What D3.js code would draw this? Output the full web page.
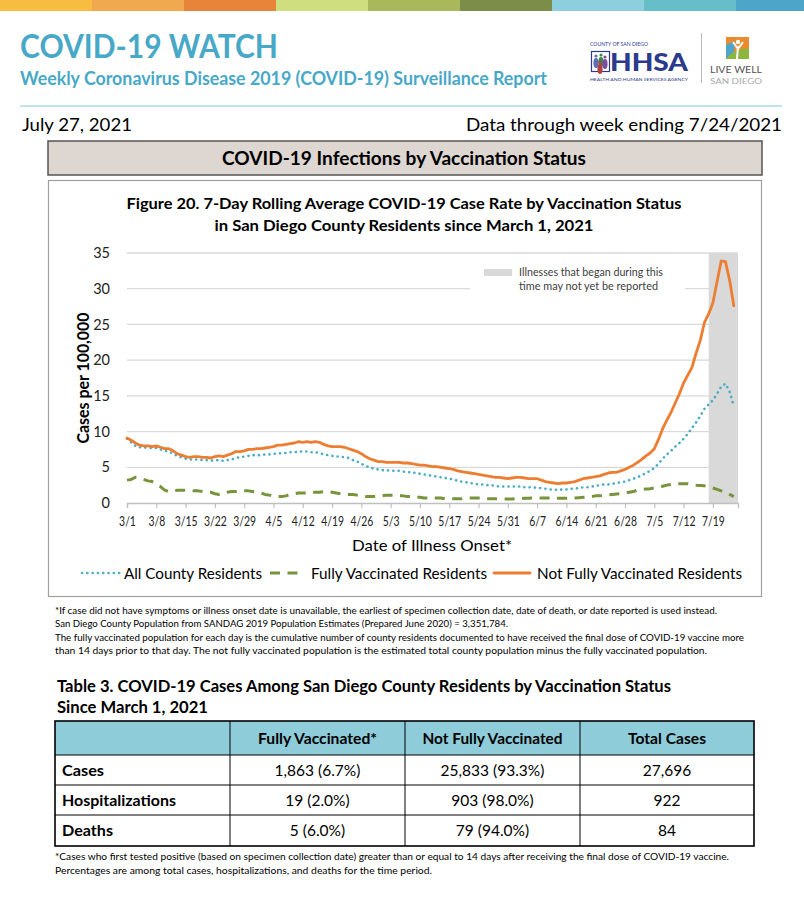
<!DOCTYPE html>
<html>
<head>
<meta charset="utf-8">
<script src="https://cdn.jsdelivr.net/npm/d3@7"></script>
<style>
  body { margin: 0; background: #fff; }
  text { font-family: Lato, "Open Sans", sans-serif; }
</style>
</head>
<body>
<script>
// chart values, one per day from 3/1/2021 to 7/24/2021
const startDate = '3/1/2021'
const notFullyVaccinated = [
  9.1, 8.8, 8.4, 8.1, 8.0, 8.0, 7.9, 8.0, 7.8, 7.6, 7.6, 7.3, 6.9, 6.7, 6.5, 6.4, 6.5, 6.5, 6.4, 6.4,
  6.3, 6.5, 6.6, 6.5, 6.7, 6.9, 7.2, 7.2, 7.3, 7.5, 7.5, 7.6, 7.6, 7.7, 7.8, 7.9, 8.1, 8.1, 8.2, 8.3,
  8.4, 8.6, 8.5, 8.6, 8.5, 8.6, 8.5, 8.2, 8.0, 7.9, 7.9, 7.9, 7.8, 7.6, 7.4, 7.2, 6.9, 6.5, 6.2, 6.0,
  5.8, 5.8, 5.7, 5.7, 5.7, 5.7, 5.6, 5.6, 5.5, 5.4, 5.3, 5.3, 5.2, 5.1, 5.1, 5.0, 4.9, 4.8, 4.7, 4.5,
  4.4, 4.3, 4.2, 4.1, 4.0, 3.9, 3.8, 3.7, 3.6, 3.6, 3.5, 3.4, 3.5, 3.6, 3.6, 3.5, 3.4, 3.4, 3.4, 3.2,
  3.0, 2.9, 2.8, 2.7, 2.8, 2.8, 2.9, 3.0, 3.2, 3.4, 3.5, 3.6, 3.7, 3.8, 4.0, 4.2, 4.3, 4.3, 4.5, 4.7,
  5.0, 5.3, 5.7, 6.1, 6.6, 7.0, 7.6, 8.9, 10.4, 11.6, 12.7, 14.0, 15.3, 16.8, 17.9, 19.0, 21.0, 22.8, 25.3, 26.5,
  28.0, 31.0, 33.9, 33.8, 31.2, 27.6
]
const allResidents = [
  9.0, 8.5, 8.0, 7.8, 7.8, 7.7, 7.7, 7.7, 7.5, 7.3, 7.2, 6.9, 6.6, 6.4, 6.2, 6.1, 6.1, 6.1, 6.0, 6.0,
  5.9, 6.0, 6.0, 5.9, 6.0, 6.1, 6.3, 6.4, 6.5, 6.6, 6.7, 6.7, 6.7, 6.8, 6.8, 6.9, 6.9, 7.0, 7.0, 7.1,
  7.1, 7.2, 7.2, 7.2, 7.1, 7.1, 7.0, 6.8, 6.7, 6.6, 6.5, 6.5, 6.4, 6.3, 6.0, 5.8, 5.5, 5.2, 5.0, 4.8,
  4.7, 4.6, 4.6, 4.5, 4.5, 4.5, 4.4, 4.3, 4.3, 4.2, 4.1, 4.0, 3.9, 3.8, 3.7, 3.6, 3.5, 3.4, 3.3, 3.1,
  3.0, 2.9, 2.8, 2.7, 2.6, 2.6, 2.5, 2.5, 2.4, 2.3, 2.3, 2.3, 2.3, 2.3, 2.3, 2.2, 2.2, 2.2, 2.1, 2.1,
  2.0, 1.9, 1.9, 1.8, 1.9, 1.9, 2.0, 2.0, 2.1, 2.2, 2.2, 2.3, 2.4, 2.5, 2.6, 2.6, 2.7, 2.8, 2.9, 3.0,
  3.2, 3.4, 3.6, 3.9, 4.2, 4.5, 4.9, 5.5, 6.2, 6.8, 7.3, 7.9, 8.4, 9.0, 9.7, 10.5, 11.3, 12.2, 13.2, 13.8,
  14.4, 15.3, 16.3, 16.7, 15.6, 13.5
]
const fullyVaccinated = [
  3.2, 3.3, 3.6, 3.5, 3.3, 3.1, 3.0, 2.7, 2.3, 1.8, 1.6, 1.6, 1.8, 1.8, 1.8, 1.8, 1.7, 1.7, 1.6, 1.5,
  1.5, 1.3, 1.2, 1.3, 1.5, 1.6, 1.6, 1.7, 1.7, 1.7, 1.6, 1.5, 1.4, 1.2, 1.1, 1.0, 0.9, 0.9, 1.0, 1.2,
  1.3, 1.4, 1.4, 1.4, 1.5, 1.5, 1.5, 1.6, 1.6, 1.5, 1.4, 1.3, 1.3, 1.2, 1.2, 1.1, 1.0, 0.9, 0.9, 0.9,
  0.9, 1.0, 1.1, 1.1, 1.1, 1.0, 1.0, 0.9, 0.9, 0.8, 0.8, 0.7, 0.7, 0.7, 0.7, 0.7, 0.6, 0.6, 0.6, 0.6,
  0.6, 0.7, 0.7, 0.7, 0.7, 0.6, 0.6, 0.6, 0.6, 0.55, 0.55, 0.55, 0.55, 0.6, 0.6, 0.65, 0.65, 0.7, 0.7, 0.7,
  0.7, 0.7, 0.7, 0.65, 0.65, 0.65, 0.65, 0.7, 0.75, 0.8, 0.85, 0.9, 1.0, 1.0, 1.1, 1.15, 1.2, 1.25, 1.3, 1.4,
  1.5, 1.6, 1.8, 1.9, 1.95, 2.0, 2.1, 2.2, 2.35, 2.5, 2.6, 2.7, 2.7, 2.7, 2.7, 2.6, 2.5, 2.45, 2.4, 2.3,
  2.1, 1.9, 1.7, 1.5, 1.2, 0.9
]
const weekLabels = ['3/1', '3/8', '3/15', '3/22', '3/29', '4/5', '4/12', '4/19', '4/26', '5/3', '5/10',
  '5/17', '5/24', '5/31', '6/7', '6/14', '6/21', '6/28', '7/5', '7/12', '7/19']
const yTicks = [0, 5, 10, 15, 20, 25, 30, 35]
const notReportedFrom = '7/18/2021'
const axisEnd = '7/25/2021'

const tableCols = ['Fully Vaccinated*', 'Not Fully Vaccinated', 'Total Cases']
const tableRows = ['Cases', 'Hospitalizations', 'Deaths']
const fullyVaxCells = ['1,863 (6.7%)', '19 (2.0%)', '5 (6.0%)']
const notFullyVaxCells = ['25,833 (93.3%)', '903 (98.0%)', '79 (94.0%)']
const totalCells = ['27,696', '922', '84']

const BAR_COLORS = ['#F6BD41', '#F0A94F', '#E8843A', '#CFDF7F', '#A9B85B', '#7B8D49', '#8DCFDD', '#66BEC9', '#4DA5C9']
const TEAL = '#48A8C7'
const ORANGE = '#ED7D31'
const BLUE = '#4BACC6'
const GREEN = '#77933C'

const parse = d3.timeParse('%m/%d/%Y')
const t0 = parse(startDate)
const dates = notFullyVaccinated.map((_, i) => d3.timeDay.offset(t0, i))

const svg = d3.select('body').append('svg')
  .attr('width', 804)
  .attr('height', 900)

// squeeze a text to the width it has in the report
function fit (sel, w) {
  sel.attr('textLength', w).attr('lengthAdjust', 'spacingAndGlyphs')
  return sel
}

function txt (x, y, s, size, opts = {}) {
  const t = svg.append('text')
    .attr('x', x).attr('y', y)
    .attr('font-size', size)
    .attr('font-weight', opts.bold ? 700 : 400)
    .attr('fill', opts.fill || '#000')
    .attr('text-anchor', opts.anchor || 'start')
    .text(s)
  if (opts.w) fit(t, opts.w)
  return t
}

// top colour band
svg.append('g').selectAll('rect')
  .data(BAR_COLORS)
  .join('rect')
    .attr('x', (c, i) => i * 92)
    .attr('y', 0)
    .attr('width', 92)
    .attr('height', 11)
    .attr('fill', c => c)

// header
txt(20, 58, 'COVID-19 WATCH', 32, { bold: true, fill: TEAL, w: 258 })
txt(20, 85, 'Weekly Coronavirus Disease 2019 (COVID-19) Surveillance Report', 19, { bold: true, fill: TEAL, w: 527 })

// logos (rough)
const logo = svg.append('g')
logo.append('text').attr('x', 590).attr('y', 46).attr('font-size', 5).attr('fill', '#2B3A8C')
  .text('COUNTY OF SAN DIEGO').call(fit, 58)
logo.append('rect').attr('x', 591.5).attr('y', 51.5).attr('width', 18).attr('height', 20)
  .attr('fill', '#fff').attr('stroke', '#2B3A8C').attr('stroke-width', 1.2)
const people = [[596, 58, '#5B6FB5'], [601, 57, '#3E8A4A'], [605, 59, '#7A4E9E'], [600, 64, '#B0413E']]
people.forEach(([cx, cy, c]) => {
  logo.append('ellipse').attr('cx', cx).attr('cy', cy + 5).attr('rx', 2.6).attr('ry', 5).attr('fill', c)
  logo.append('circle').attr('cx', cx).attr('cy', cy - 2).attr('r', 1.6).attr('fill', c)
})
logo.append('text').attr('x', 610).attr('y', 71).attr('font-size', 24).attr('font-weight', 900)
  .attr('fill', '#2B3A8C').text('HHSA').call(fit, 78)
logo.append('text').attr('x', 590).attr('y', 80.5).attr('font-size', 4.5).attr('fill', '#2B3A8C')
  .text('HEALTH AND HUMAN SERVICES AGENCY').call(fit, 98)
logo.append('line').attr('x1', 701.5).attr('x2', 701.5).attr('y1', 33).attr('y2', 83)
  .attr('stroke', '#bbb').attr('stroke-width', 1)
const lw = logo.append('g').attr('transform', 'translate(726,37)')
lw.append('rect').attr('width', 23).attr('height', 22).attr('fill', '#E98B2E')
lw.append('path').attr('d', 'M0,8 L9,4 L7,22 L0,22Z').attr('fill', '#4DA5C9')
lw.append('path').attr('d', 'M0,22 C6,14 14,12 23,11 L23,22Z').attr('fill', '#8DB63C')
lw.append('path').attr('d', 'M11,22 L12,9 M12,12 L7,5 M12,12 L17,5').attr('stroke', '#fff').attr('stroke-width', 2).attr('fill', 'none')
lw.append('circle').attr('cx', 12).attr('cy', 5).attr('r', 2.2).attr('fill', '#fff')
logo.append('text').attr('x', 710).attr('y', 72.5).attr('font-size', 9).attr('fill', '#555')
  .text('LIVE WELL').call(fit, 52)
logo.append('text').attr('x', 710).attr('y', 83.5).attr('font-size', 8).attr('fill', '#aaa')
  .text('SAN DIEGO').call(fit, 52)

svg.append('line').attr('x1', 20).attr('x2', 782).attr('y1', 106).attr('y2', 106)
  .attr('stroke', '#A8DCE3').attr('stroke-width', 1.5)

txt(22, 131, 'July 27, 2021', 18, { w: 110 })
txt(782, 131, 'Data through week ending 7/24/2021', 18, { anchor: 'end', w: 316 })

// section banner
svg.append('rect').attr('x', 48).attr('y', 141).attr('width', 714).attr('height', 34)
  .attr('fill', '#DDD6D1').attr('stroke', '#555').attr('stroke-width', 1.5)
txt(404, 165, 'COVID-19 Infections by Vaccination Status', 18, { bold: true, anchor: 'middle', w: 364 })

// chart frame
svg.append('rect').attr('x', 48.5).attr('y', 180.5).attr('width', 713).attr('height', 416)
  .attr('fill', '#fff').attr('stroke', '#A0A0A0').attr('stroke-width', 1.2)
txt(404, 209, 'Figure 20. 7-Day Rolling Average COVID-19 Case Rate by Vaccination Status', 16, { bold: true, anchor: 'middle', w: 555 })
txt(404, 231, 'in San Diego County Residents since March 1, 2021', 16, { bold: true, anchor: 'middle', w: 379 })

// scales
const x = d3.scaleTime()
  .domain([t0, parse(axisEnd)])
  .range([127, 738])
const y = d3.scaleLinear()
  .domain([0, 35])
  .range([503, 253])

const plot = svg.append('g')

// gridlines
plot.append('g').selectAll('line')
  .data(yTicks.filter(v => v > 0))
  .join('line')
    .attr('x1', x.range()[0]).attr('x2', x.range()[1])
    .attr('y1', v => y(v)).attr('y2', v => y(v))
    .attr('stroke', '#D9D9D9').attr('stroke-width', 1.3)

// period that may not be fully reported
plot.append('rect')
  .attr('x', x(parse(notReportedFrom)))
  .attr('y', y(35))
  .attr('width', x(parse(axisEnd)) - x(parse(notReportedFrom)))
  .attr('height', y(0) - y(35))
  .attr('fill', '#D9D9D9')

// note box
plot.append('rect').attr('x', 470).attr('y', 262).attr('width', 215).attr('height', 34).attr('fill', '#fff')
plot.append('rect').attr('x', 484).attr('y', 269).attr('width', 28).attr('height', 7).attr('fill', '#D9D9D9')
txt(519, 276, 'Illnesses that began during this', 11, { fill: '#404040', w: 144 })
txt(519, 290, 'time may not yet be reported', 11, { fill: '#404040', w: 139 })

// y axis
const yAxis = svg.append('g')
  .attr('transform', 'translate(127,0)')
  .call(d3.axisLeft(y).tickValues(yTicks).tickSize(0).tickPadding(17))
yAxis.select('.domain').remove()
yAxis.selectAll('text').attr('font-size', 14.5).attr('fill', '#222')

// x axis
const weekDates = weekLabels.map(s => parse(s + '/2021'))
const xAxis = svg.append('g')
  .attr('transform', 'translate(0,503)')
  .call(d3.axisBottom(x).tickValues(weekDates).tickFormat((d, i) => weekLabels[i]).tickSize(5).tickPadding(9))
xAxis.select('.domain').attr('stroke', '#BFBFBF').attr('stroke-width', 1.3)
xAxis.selectAll('.tick line').attr('stroke', '#BFBFBF').attr('stroke-width', 1.2)
xAxis.selectAll('text')
  .attr('font-size', 13)
  .attr('fill', '#222')
  .each(function () { fit(d3.select(this), this.getComputedTextLength() * 0.8) })

svg.append('text')
  .attr('transform', 'translate(89,378) rotate(-90)')
  .attr('text-anchor', 'middle')
  .attr('font-size', 17).attr('font-weight', 700)
  .text('Cases per 100,000').call(fit, 131)
txt(432, 551, 'Date of Illness Onset*', 16, { anchor: 'middle', w: 160 })

// series
const series = [
  { name: 'All County Residents', values: allResidents, color: BLUE, width: 2.6, dash: '0.1 5.2', cap: 'round' },
  { name: 'Fully Vaccinated Residents', values: fullyVaccinated, color: GREEN, width: 3, dash: '10 7.5', cap: 'butt' },
  { name: 'Not Fully Vaccinated Residents', values: notFullyVaccinated, color: ORANGE, width: 2.8, dash: null, cap: 'round' }
]
const line = d3.line()
  .x((v, i) => x(dates[i]))
  .y(v => y(v))
  .curve(d3.curveLinear)

plot.append('g').selectAll('path')
  .data(series)
  .join('path')
    .attr('d', s => line(s.values))
    .attr('fill', 'none')
    .attr('stroke', s => s.color)
    .attr('stroke-width', s => s.width)
    .attr('stroke-dasharray', s => s.dash)
    .attr('stroke-linecap', s => s.cap)
    .attr('stroke-linejoin', 'round')

// legend
const legendPos = [[82, 120, 124, 138], [270, 304, 311, 176], [494, 530, 537, 205]]
const legend = svg.append('g').selectAll('g')
  .data(series)
  .join('g')
legend.append('line')
  .attr('x1', (s, i) => legendPos[i][0]).attr('x2', (s, i) => legendPos[i][1])
  .attr('y1', 573).attr('y2', 573)
  .attr('stroke', s => s.color)
  .attr('stroke-width', s => s.width)
  .attr('stroke-dasharray', s => s.dash)
  .attr('stroke-linecap', s => s.cap)
legend.append('text')
  .attr('x', (s, i) => legendPos[i][2]).attr('y', 579)
  .attr('font-size', 15)
  .text(s => s.name)
  .each(function (s, i) { fit(d3.select(this), legendPos[i][3]) })

// footnotes
const notes = [
  ['*If case did not have symptoms or illness onset date is unavailable, the earliest of specimen collection date, date of death, or date reported is used instead.', 662],
  ['San Diego County Population from SANDAG 2019 Population Estimates (Prepared June 2020) = 3,351,784.', 453],
  ['The fully vaccinated population for each day is the cumulative number of county residents documented to have received the final dose of COVID-19 vaccine more', 689],
  ['than 14 days prior to that day. The not fully vaccinated population is the estimated total county population minus the fully vaccinated population.', 652]
]
notes.forEach(([s, w], i) => txt(55, 614 + i * 13.3, s, 10, { w: w }))

// table
txt(57, 692, 'Table 3. COVID-19 Cases Among San Diego County Residents by Vaccination Status', 17.5, { bold: true, w: 614 })
txt(57, 713, 'Since March 1, 2021', 17.5, { bold: true, w: 151 })

const colX = [55, 230, 405, 580, 754]
const rowY = [721, 755, 785, 815, 846]
const tbl = svg.append('g')
tbl.append('rect').attr('x', colX[0]).attr('y', rowY[0]).attr('width', colX[4] - colX[0]).attr('height', rowY[1] - rowY[0])
  .attr('fill', '#8ECCDA')
rowY.slice(1, -1).forEach(yy => tbl.append('line').attr('x1', colX[0]).attr('x2', colX[4]).attr('y1', yy).attr('y2', yy)
  .attr('stroke', '#000').attr('stroke-width', 1))
colX.slice(1, -1).forEach(xx => tbl.append('line').attr('x1', xx).attr('x2', xx).attr('y1', rowY[0]).attr('y2', rowY[4])
  .attr('stroke', '#000').attr('stroke-width', 1))
tbl.append('rect').attr('x', colX[0]).attr('y', rowY[0]).attr('width', colX[4] - colX[0]).attr('height', rowY[4] - rowY[0])
  .attr('fill', 'none').attr('stroke', '#000').attr('stroke-width', 1.6)

const headW = [119, 140, 78]
tableCols.forEach((c, j) => txt((colX[j + 1] + colX[j + 2]) / 2, 744, c, 15.5, { bold: true, anchor: 'middle', w: headW[j] }))
const labelW = [42, 114, 51]
const cells = [fullyVaxCells, notFullyVaxCells, totalCells]
tableRows.forEach((r, i) => {
  const base = (rowY[i + 1] + rowY[i + 2]) / 2 + 5.5
  txt(62, base, r, 15.5, { bold: true, w: labelW[i] })
  cells.forEach((col, j) => txt((colX[j + 1] + colX[j + 2]) / 2, base, col[i], 15.5, { anchor: 'middle' }))
})

txt(55, 860, '*Cases who first tested positive (based on specimen collection date) greater than or equal to 14 days after receiving the final dose of COVID-19 vaccine.', 10, { w: 674 })
txt(55, 874, 'Percentages are among total cases, hospitalizations, and deaths for the time period.', 10, { w: 377 })
</script>
</body>
</html>
